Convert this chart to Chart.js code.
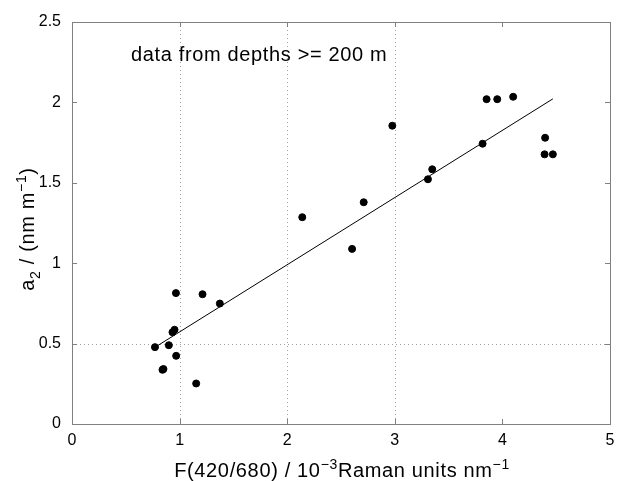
<!DOCTYPE html>
<html>
<head>
<meta charset="utf-8">
<script src="https://cdn.jsdelivr.net/npm/chart.js@4/dist/chart.umd.min.js"></script>
<style>
  html, body { margin: 0; padding: 0; background: #fff; }
  #wrap { width: 617px; height: 481px; }
</style>
</head>
<body>
<div id="wrap"><canvas class="js-chart" width="617" height="481"></canvas></div>
<script>
const ctx = document.querySelector(".js-chart").getContext("2d");

// measured points, a2 vs F(420/680)
const xValues = [2.14, 0.966, 1.213, 1.374, 0.953, 0.934, 0.771, 0.90, 0.968, 0.841, 0.85, 1.154,
  2.603, 2.977, 2.711, 3.348, 3.308, 3.816, 3.853, 3.952, 4.10, 4.397, 4.392, 4.469];
const yValues = [1.286, 0.814, 0.807, 0.749, 0.586, 0.571, 0.478, 0.49, 0.424, 0.337, 0.342, 0.252,
  1.089, 1.855, 1.379, 1.584, 1.522, 1.743, 2.02, 2.02, 2.035, 1.78, 1.677, 1.677];

// regression line end points
const fitX = [0.771, 4.469];
const fitY = [0.477, 2.022];

const xTicks = [0, 1, 2, 3, 4, 5];
const yTicks = [0, 0.5, 1, 1.5, 2, 2.5];
const xGridAt = [1, 2, 3];
const yGridAt = [0.5];

const NOTE = "data from depths >= 200 m";
const FONT = "Liberation Sans, Arial, Helvetica, sans-serif";

function drawRich(c, parts, size) {
  // measure first, then draw centred on 0,0
  let w = 0;
  parts.forEach((p) => {
    c.font = (p.sup || p.sub ? size * 0.7 : size) + "px " + FONT;
    p.w = c.measureText(p.t).width;
    w += p.w;
  });
  let x = -w / 2;
  parts.forEach((p) => {
    c.font = (p.sup || p.sub ? size * 0.7 : size) + "px " + FONT;
    let dy = 0;
    if (p.sup) dy = -size * 0.4;
    if (p.sub) dy = size * 0.3;
    c.fillText(p.t, x, dy);
    x += p.w;
  });
}

const frame = {
  id: "frame",
  beforeDatasetsDraw(chart) {
    const { left, right, top, bottom } = chart.chartArea;
    const xs = chart.scales.x;
    const ys = chart.scales.y;
    const c = chart.ctx;
    c.save();
    c.strokeStyle = "#a0a0a0";
    c.lineWidth = 1;
    c.setLineDash([1, 3]);
    c.beginPath();
    xGridAt.forEach((v) => {
      const px = Math.round(xs.getPixelForValue(v)) + 0.5;
      c.moveTo(px, top); c.lineTo(px, bottom);
    });
    yGridAt.forEach((v) => {
      const py = Math.round(ys.getPixelForValue(v)) + 0.5;
      c.moveTo(left, py); c.lineTo(right, py);
    });
    c.stroke();
    c.restore();
  },
  afterDraw(chart) {
    const { left, right, top, bottom } = chart.chartArea;
    const xs = chart.scales.x;
    const ys = chart.scales.y;
    const c = chart.ctx;
    c.save();
    c.strokeStyle = "#808080";
    c.lineWidth = 1;
    c.strokeRect(left + 0.5, top + 0.5, right - left, bottom - top);
    c.beginPath();
    xTicks.forEach((v) => {
      const px = Math.round(xs.getPixelForValue(v)) + 0.5;
      c.moveTo(px, bottom); c.lineTo(px, bottom - 5);
      c.moveTo(px, top); c.lineTo(px, top + 5);
    });
    yTicks.forEach((v) => {
      const py = Math.round(ys.getPixelForValue(v)) + 0.5;
      c.moveTo(left, py); c.lineTo(left + 5, py);
      c.moveTo(right, py); c.lineTo(right - 5, py);
    });
    c.stroke();

    c.fillStyle = "#000";
    c.textBaseline = "alphabetic";
    c.textAlign = "left";
    c.letterSpacing = "0.65px";
    c.font = "20px " + FONT;
    c.fillText(NOTE, 131, 61);

    c.save();
    c.translate((left + right) / 2 + 1, 477);
    drawRich(c, [
      { t: "F(420/680) / 10" }, { t: "\u22123", sup: true },
      { t: "Raman units nm" }, { t: "\u22121", sup: true },
    ], 20);
    c.restore();

    c.save();
    c.translate(34, (top + bottom) / 2 + 6);
    c.rotate(-Math.PI / 2);
    drawRich(c, [
      { t: "a" }, { t: "2", sub: true }, { t: " / (nm m" },
      { t: "\u22121", sup: true }, { t: ")" },
    ], 20);
    c.restore();
    c.restore();
  },
};

new Chart(ctx, {
  type: "scatter",
  data: {
    datasets: [
      {
        label: "samples",
        data: xValues.map((x, i) => ({ x, y: yValues[i] })),
        backgroundColor: "#000",
        borderColor: "#000",
        pointRadius: 3.5,
        pointHoverRadius: 3.5,
      },
      {
        label: "fit",
        data: fitX.map((x, i) => ({ x, y: fitY[i] })),
        showLine: true,
        borderColor: "#000",
        borderWidth: 1,
        pointRadius: 0,
        fill: false,
      },
    ],
  },
  options: {
    responsive: false,
    animation: false,
    devicePixelRatio: 1,
    layout: { padding: { top: 22, right: 7, left: 0, bottom: 0 } },
    plugins: { legend: { display: false }, tooltip: { enabled: false } },
    scales: {
      x: {
        type: "linear",
        min: 0,
        max: 5,
        afterBuildTicks(scale) { scale.ticks = xTicks.map((v) => ({ value: v })); },
        afterFit(scale) {
          scale.height = 57;
          scale.paddingLeft = 0;
          scale.paddingRight = 0;
        },
        ticks: { color: "#000", font: { size: 16, family: FONT }, padding: 7, maxRotation: 0,
          callback: (v) => String(v) },
        grid: { display: false, drawTicks: false },
        border: { display: false },
      },
      y: {
        type: "linear",
        min: 0,
        max: 2.5,
        afterBuildTicks(scale) { scale.ticks = yTicks.map((v) => ({ value: v })); },
        afterFit(scale) {
          scale.width = 72;
          scale.paddingTop = 0;
          scale.paddingBottom = 0;
        },
        ticks: { color: "#000", font: { size: 16, family: FONT }, padding: 11,
          callback: (v) => String(v) },
        grid: { display: false, drawTicks: false },
        border: { display: false },
      },
    },
  },
  plugins: [frame],
});
</script>
</body>
</html>
